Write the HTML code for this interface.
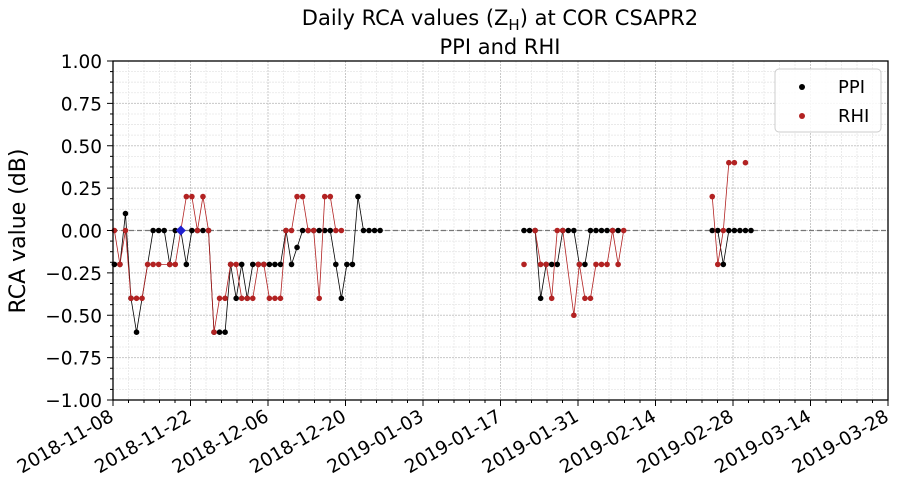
<!DOCTYPE html>
<html><head><meta charset="utf-8"><style>
body{margin:0;background:#fff;}
svg{display:block;font-family:"DejaVu Sans","Liberation Sans",sans-serif;}
</style></head><body>
<svg id="chart" width="898" height="496" viewBox="0 0 898 496">
<g id="grid"></g>
<line x1="113" x2="888" y1="230.5" y2="230.5" stroke="#777" stroke-width="1.2" stroke-dasharray="5,3"/>
<g id="series"></g>
<rect x="113" y="61" width="775" height="339" fill="none" stroke="#000" stroke-width="1.3"/>
<g id="axes"></g>
<text x="500" y="25" font-size="21" text-anchor="middle">Daily RCA values (Z<tspan font-size="15" dy="5">H</tspan><tspan dy="-5">) at COR CSAPR2</tspan></text>
<text x="500" y="54" font-size="21" text-anchor="middle">PPI and RHI</text>
<text transform="translate(25,231) rotate(-90)" font-size="22" text-anchor="middle">RCA value (dB)</text>
<g>
<rect x="775" y="69" width="106" height="63" rx="4" fill="#fff" fill-opacity="0.85" stroke="#ccc"/>
<circle cx="802" cy="87" r="3" fill="#000"/>
<text x="838" y="93" font-size="18">PPI</text>
<circle cx="802" cy="116" r="3" fill="#b22222"/>
<text x="838" y="122" font-size="18">RHI</text>
</g>
</svg>
<script>
const xTickLabels = ["2018-11-08","2018-11-22","2018-12-06","2018-12-20","2019-01-03","2019-01-17","2019-01-31","2019-02-14","2019-02-28","2019-03-14","2019-03-28"];
const yTickLabels = ["1.00","0.75","0.50","0.25","0.00","\u22120.25","\u22120.50","\u22120.75","\u22121.00"];
const yTickValues = [1,0.75,0.5,0.25,0,-0.25,-0.5,-0.75,-1];
// day offsets from 2018-11-08; NaN breaks line
const ppiDays = [0,1,2,3,4,7,8,9,10,11,12,13,14,15,16,17,18,19,20,21,22,23,24,25,26,27,28,29,30,31,32,33,34,35,36,37,38,39,40,41,42,43,44,45,46,47,48,NaN,74,75,76,77,78,79,80,81,82,83,84,85,86,87,88,89,90,91,NaN,108,109,110,111,112,113,114,115];
const ppiVals = [-0.2,-0.2,0.1,-0.4,-0.6,0,0,0,-0.2,0,0,-0.2,0,0,0,0,-0.6,-0.6,-0.6,-0.2,-0.4,-0.2,-0.4,-0.2,-0.2,-0.2,-0.2,-0.2,-0.2,0,-0.2,-0.1,0,0,0,0,0,0,-0.2,-0.4,-0.2,-0.2,0.2,0,0,0,0,NaN,0,0,0,-0.4,-0.2,-0.2,-0.2,0,0,0,-0.2,-0.2,0,0,0,0,0,0,NaN,0,0,-0.2,0,0,0,0,0];
const rhiDays = [0,1,2,3,4,5,6,7,8,10,11,13,14,15,16,17,18,19,20,21,22,23,24,25,26,27,28,29,30,31,32,33,34,35,36,37,38,39,40,41,NaN,74,NaN,76,77,78,79,80,81,83,84,85,86,87,88,89,90,91,92,NaN,108,109,110,111,112,NaN,114];
const rhiVals = [0,-0.2,0,-0.4,-0.4,-0.4,-0.2,-0.2,-0.2,-0.2,-0.2,0.2,0.2,0,0.2,0,-0.6,-0.4,-0.4,-0.2,-0.2,-0.4,-0.4,-0.4,-0.2,-0.2,-0.4,-0.4,-0.4,0,0,0.2,0.2,0,0,-0.4,0.2,0.2,0,0,NaN,-0.2,NaN,0,-0.2,-0.2,-0.4,0,0,-0.5,-0.2,-0.4,-0.4,-0.2,-0.2,-0.2,0,-0.2,0,NaN,0.2,-0.2,0,0.4,0.4,NaN,0.4];
const highlightDays = [12];
const highlightVals = [0];

const X0=113,X1=888,Y0=61,Y1=400,DAYS=140;
function xs(d){return X0+(d+0.25)*(X1-X0)/DAYS;}
function xt(d){return X0+d*(X1-X0)/DAYS;}
function ys(v){return Y0+(1-v)/2*(Y1-Y0);}
const NS="http://www.w3.org/2000/svg";
function mk(tag,attrs,parent){const e=document.createElementNS(NS,tag);for(const k in attrs)e.setAttribute(k,attrs[k]);parent.appendChild(e);return e;}
const grid=document.getElementById('grid'),axes=document.getElementById('axes'),series=document.getElementById('series');
for(let i=0;i<=50;i++){const d=i*2.8;const x=xt(d);
 const l=mk('line',{x1:x,x2:x,y1:Y0,y2:Y1,stroke:i%5?'#e6e6e6':'#c8c8c8','stroke-width':i%5?0.8:1,'stroke-dasharray':'2,1'},grid);
 
 
 const t=mk('line',{x1:x,x2:x,y1:Y1,y2:Y1+(i%5?3:6),stroke:'#000','stroke-width':1},axes);
 
 
}
for(let i=0;i<=32;i++){const v=1-i*0.0625;const y=ys(v);
 const l=mk('line',{x1:X0,x2:X1,y1:y,y2:y,stroke:i%4?'#e6e6e6':'#c8c8c8','stroke-width':i%4?0.8:1,'stroke-dasharray':'2,1'},grid);
 
 
 const t=mk('line',{x1:X0-(i%4?3:6),x2:X0,y1:y,y2:y,stroke:'#000','stroke-width':1},axes);
 
 
}
yTickValues.forEach((v,i)=>{const t=mk('text',{x:X0-11,y:ys(v)+7,'font-size':18.5,'text-anchor':'end'},axes);t.textContent=yTickLabels[i];
 
 });
xTickLabels.forEach((s,i)=>{const x=xt(i*14);const t=mk('text',{transform:`translate(${x+2},${Y1+20}) rotate(-30)`,'font-size':18.5,'text-anchor':'end'},axes);t.textContent=s;
 
 });
function drawSeries(days,vals,color,name){
 let pts=[];const segs=[];
 for(let i=0;i<days.length;i++){if(isNaN(days[i])||isNaN(vals[i])){if(pts.length)segs.push(pts);pts=[];continue;}pts.push([xs(days[i]),ys(vals[i])]);}
 if(pts.length)segs.push(pts);
 segs.forEach(s=>{if(s.length>1){const p=mk('polyline',{points:s.map(q=>q.join(',')).join(' '),fill:'none',stroke:color,'stroke-width':0.8},series);
  
  }});
 segs.forEach(s=>s.forEach(q=>{const c=mk('circle',{cx:q[0],cy:q[1],r:2.8,fill:color},series);
  
  }));
}
drawSeries(ppiDays,ppiVals,'#000','ppi');
drawSeries(rhiDays,rhiVals,'#b22222','rhi');
highlightDays.forEach((d,i)=>{const x=xs(d),y=ys(highlightVals[i]);
 const p=mk('polygon',{points:`${x},${y-5} ${x+5},${y} ${x},${y+5} ${x-5},${y}`,fill:'#1f1fd0'},series);
 
 });
</script>
</body></html>
